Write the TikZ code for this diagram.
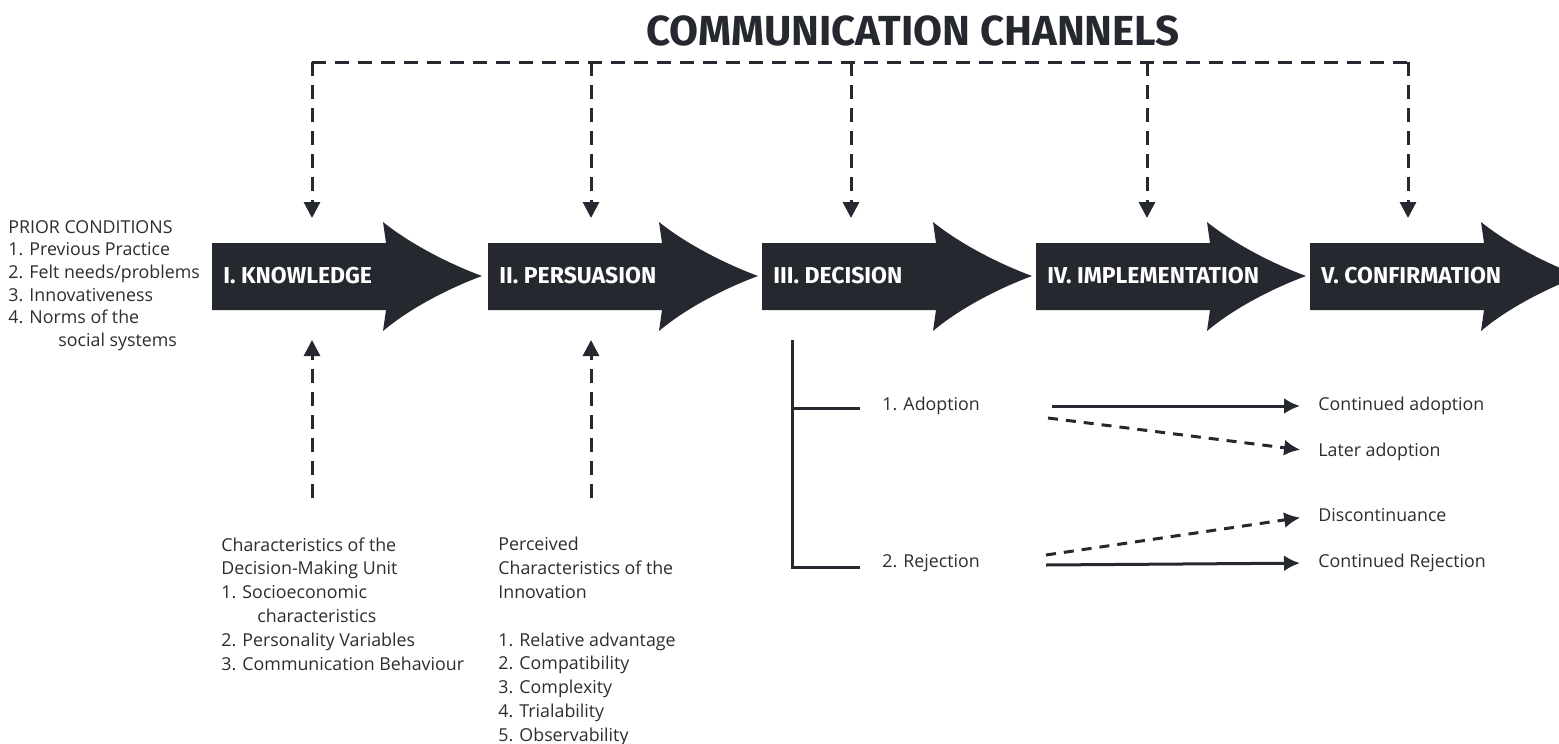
\documentclass[tikz,border=0pt]{standalone}
\usepackage{fontspec}
\setmainfont{Open Sans}
\newfontfamily\headfont{Fira Sans}
\usetikzlibrary{arrows.meta}
\definecolor{stagedark}{RGB}{37,40,47}
\definecolor{textdark}{RGB}{45,45,45}
\begin{document}
\begin{tikzpicture}[x=0.5pt, y=-0.5pt]

\tikzset{stagefill/.style={fill=stagedark}}
\tikzset{stagelabel/.style={anchor=west, inner sep=0, text=white, font=\headfont\bfseries\fontsize{11.5}{13}\selectfont}}
\tikzset{chanline/.style={draw=stagedark, line width=1.5pt, dash pattern=on 7pt off 4.5pt}}
\tikzset{chantip/.style={-{Triangle[width=8pt, length=8pt]}}}
\tikzset{plaintext/.style={inner sep=0, align=left, text=textdark, font=\fontsize{8.9}{11.9}\selectfont}}
\tikzset{outline/.style={draw=stagedark, line width=1.5pt, shorten >=9pt, -{Latex[width=8pt, length=8pt]}}}
\tikzset{outdash/.style={outline, dash pattern=on 5pt off 4pt}}

\useasboundingbox (0,0) rectangle (1559,744);

% figure title
\node[text=stagedark, font=\headfont\bfseries\fontsize{21}{24}\selectfont] (title) at (913,31) {COMMUNICATION CHANNELS};

% five stages
\foreach \L/\stg/\txt in {212/know/I. KNOWLEDGE, 488/pers/II. PERSUASION, 762/deci/III. DECISION, 1036/impl/IV. IMPLEMENTATION, 1310/conf/V. CONFIRMATION} {
  \fill[stagefill] (\L,243) -- (\L+174,243) -- (\L+171,222)
    .. controls (\L+197,243) and (\L+235,263) .. (\L+270,276)
    .. controls (\L+235,289) and (\L+197,309) .. (\L+171,331)
    -- (\L+174,310) -- (\L,310) -- cycle;
  \node[stagelabel] (\stg) at (\L+11,276) {\txt};
}

% communication channels
\coordinate (chleft) at (312,62);
\coordinate (chright) at (1408,62);
\draw[chanline] (chleft) -- (chright);
\foreach \x in {312, 591, 851, 1147, 1408} {
  \draw[chanline, chantip] (\x,62) -- (\x,218);
}

% prior conditions
\node[plaintext, anchor=north west, font=\fontsize{8.9}{11.3}\selectfont] (prior) at (8,220) {PRIOR CONDITIONS\\
1. Previous Practice\\
2. Felt needs/problems\\
3. Innovativeness\\
4. Norms of the\\
\hspace*{25pt}social systems};

% unit and innovation characteristics
\node[plaintext, anchor=north west] (unit) at (221,537) {Characteristics of the\\
Decision-Making Unit\\
1. Socioeconomic\\
\hspace*{18pt}characteristics\\
2. Personality Variables\\
3. Communication Behaviour};
\node[plaintext, anchor=north west] (innov) at (498,537) {Perceived\\
Characteristics of the\\
Innovation\\[11.9pt]
1. Relative advantage\\
2. Compatibility\\
3. Complexity\\
4. Trialability\\
5. Observability};

\coordinate (unitstart) at (312,498);
\coordinate (unitend) at (312,340);
\coordinate (innovstart) at (591,498);
\coordinate (innovend) at (591,340);
\draw[chanline, chantip] (unitstart) -- (unitend);
\draw[chanline, chantip] (innovstart) -- (innovend);

% decision branches
\coordinate (brtop) at (792,340);
\coordinate (brmid) at (792,408);
\coordinate (brlow) at (792,567);
\node[plaintext, anchor=west] (adopt) at (882,406) {1. Adoption};
\node[plaintext, anchor=west] (reject) at (882,563) {2. Rejection};
\draw[draw=stagedark, line width=1.5pt] (brtop) -- (brlow) -- ++(68,0);
\draw[draw=stagedark, line width=1.5pt] (brmid) -- ++(68,0);

% outcomes
\node[plaintext, anchor=west] (contadopt) at (1318,406) {Continued adoption};
\node[plaintext, anchor=west] (later) at (1318,452) {Later adoption};
\node[plaintext, anchor=west] (discont) at (1318,515) {Discontinuance};
\node[plaintext, anchor=west] (contreject) at (1318,563) {Continued Rejection};

\coordinate (adoptout) at (1052,406);
\coordinate (adoptout2) at (1048,418);
\coordinate (rejectout) at (1046,565);
\coordinate (rejectout2) at (1046,555);
\draw[outline] (adoptout) -- (contadopt.west);
\draw[outdash] (adoptout2) -- (later.west);
\draw[outdash] (rejectout2) -- (discont.west);
\draw[outline] (rejectout) -- (contreject.west);

\end{tikzpicture}
\end{document}
